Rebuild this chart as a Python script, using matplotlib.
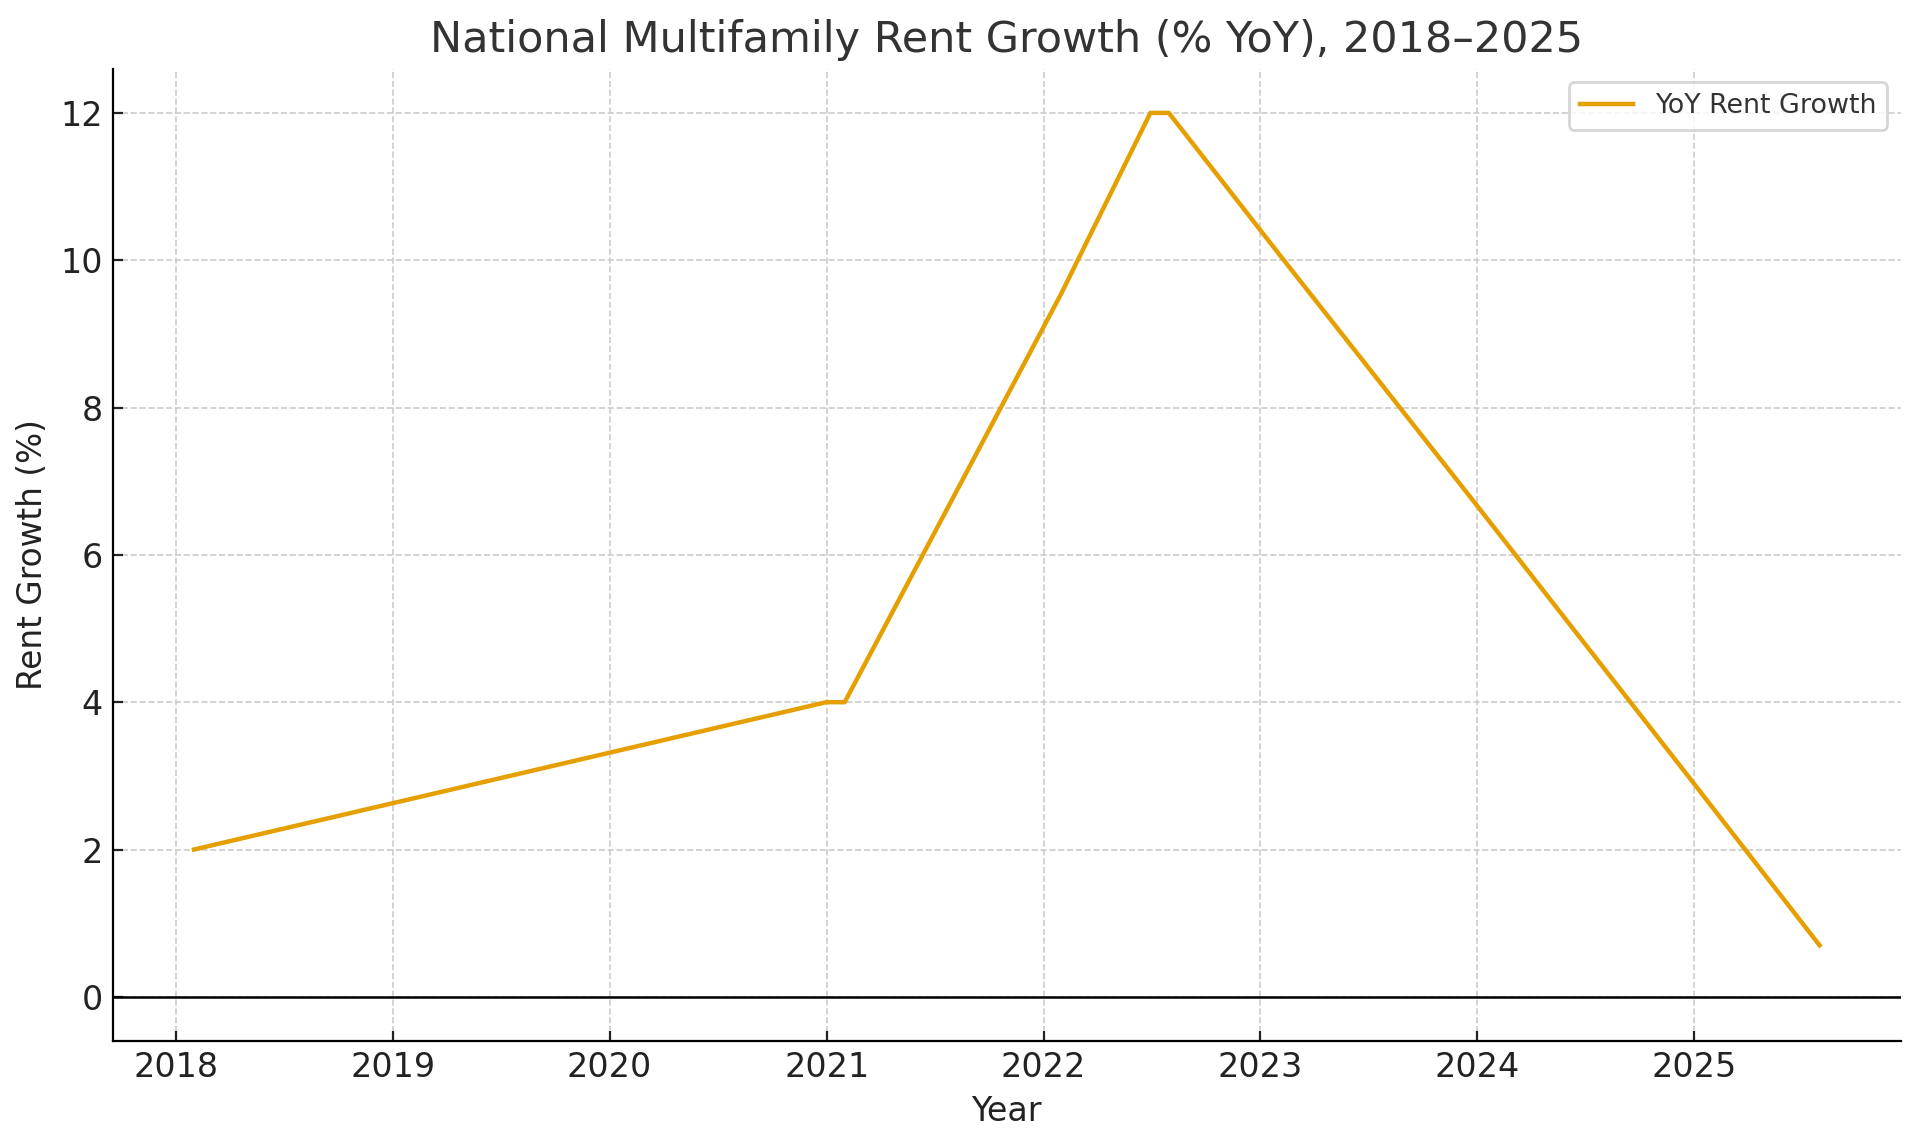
import pandas as pd
import matplotlib.pyplot as plt

# vertices of the series (month-end dates)
dates = ["2018-01-31", "2020-12-31", "2021-01-31", "2022-01-31", "2022-06-30",
         "2022-07-31", "2023-01-31", "2023-12-31", "2024-12-31", "2025-07-31"]
growth = [2.0, 4.0, 4.0, 9.55, 12.0, 12.0, 10.1, 6.68, 2.9, 0.7]

df = pd.DataFrame({"date": pd.to_datetime(dates), "yoy": growth})

fig, ax = plt.subplots(figsize=(9.6, 5.725), dpi=200)
fig.subplots_adjust(left=0.0587, right=0.990, top=0.940, bottom=0.0908)

ax.plot(df["date"], df["yoy"], color="#E69F00", linewidth=1.6, label="YoY Rent Growth")
ax.axhline(0, color="black", linewidth=0.9)

ax.set_title("National Multifamily Rent Growth (% YoY), 2018\u20132025",
             fontsize=15.5, color="#333333")
ax.set_xlabel("Year", fontsize=12, color="#222222")
ax.set_ylabel("Rent Growth (%)", fontsize=11.8, color="#222222")
ax.tick_params(labelsize=12, colors="#222222", direction="in")

ax.grid(True, linestyle="--", color="#cccccc", linewidth=0.6)
for side in ["top", "right"]:
    ax.spines[side].set_visible(False)

ax.legend(loc="upper right", fontsize=9.7, labelcolor="#333333")

fig.savefig("out.png", dpi=200)
